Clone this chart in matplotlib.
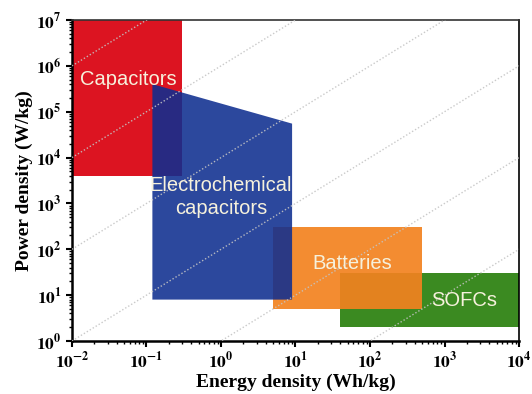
import numpy as np
import matplotlib.pyplot as plt
from matplotlib.patches import Polygon
from matplotlib.ticker import FuncFormatter, LogLocator

plt.rcParams['mathtext.fontset'] = 'stix'

# Ragone regions: energy density (Wh/kg) vs power density (W/kg)
cap_E = [0.01, 0.3]
cap_P = [4e3, 1e7]

ec_E = [0.12, 0.12, 9, 9]
ec_P = [8, 4e5, 5.5e4, 8]

bat_E = [5, 500]
bat_P = [5, 300]

sofc_E = [40, 1e4]
sofc_P = [2, 30]

# constant-time guide lines, P/E in 1/h
ratios = [1e-2, 1, 1e2, 1e4, 1e6, 1e8]

fig = plt.figure(figsize=(5.32, 3.94), dpi=100)
ax = fig.add_axes([0.1353, 0.1345, 0.8403, 0.8147])
ax.set_xscale('log')
ax.set_yscale('log')
ax.set_xlim(1e-2, 1e4)
ax.set_ylim(1, 1e7)


def box(E, P, color, alpha, z):
    pts = [(E[0], P[0]), (E[0], P[1]), (E[1], P[1]), (E[1], P[0])]
    ax.add_patch(Polygon(pts, closed=True, facecolor=color, edgecolor='none',
                         alpha=alpha, zorder=z))


box(sofc_E, sofc_P, '#3b8a21', 1.0, 1)
box(cap_E, cap_P, '#dc1421', 1.0, 1)
box(bat_E, bat_P, '#f2821f', 0.92, 2)
ax.add_patch(Polygon(list(zip(ec_E, ec_P)), closed=True, facecolor='#0f2e90',
                     edgecolor='none', alpha=0.88, zorder=3))

E = np.logspace(-2, 4, 50)
for r in ratios:
    ax.plot(E, E * r, linestyle=(0, (1, 1.5)), color='#c4c4c4', lw=1.0,
            alpha=0.9, zorder=4)

txt = dict(color='#f6f1dc', fontsize=14.5, family='Liberation Sans',
           ha='center', va='center', zorder=5)
ax.text(0.057, 5e5, 'Capacitors', **txt)
ax.text(1.0, 1.4e3, 'Electrochemical\ncapacitors', linespacing=1.25, **txt)
ax.text(57, 48, 'Batteries', **txt)
ax.text(1850, 7.8, 'SOFCs', **txt)

ax.xaxis.set_major_locator(LogLocator(base=10, numticks=10))
ax.yaxis.set_major_locator(LogLocator(base=10, numticks=10))
ax.xaxis.set_minor_locator(LogLocator(base=10, subs=np.arange(2, 10), numticks=10))
ax.yaxis.set_minor_locator(LogLocator(base=10, subs=np.arange(2, 10), numticks=10))
fmt = FuncFormatter(lambda v, p: r'$\mathbf{10^{%d}}$' % round(np.log10(v)))
ax.xaxis.set_major_formatter(fmt)
ax.yaxis.set_major_formatter(fmt)
ax.tick_params(which='major', direction='out', length=4, width=1.5,
               labelsize=12.5, top=False, right=False)
ax.tick_params(which='minor', direction='out', length=2.5, width=1,
               top=False, right=False)

for s in ['left', 'bottom']:
    ax.spines[s].set_linewidth(1.8)
ax.spines['top'].set_linewidth(1.2)
ax.spines['top'].set_color('#333333')
ax.spines['right'].set_linewidth(1.2)

lab = dict(family='Liberation Serif', fontweight='bold', fontsize=14)
ax.set_xlabel('Energy density (Wh/kg)', labelpad=1, **lab)
ax.set_ylabel('Power density (W/kg)', labelpad=2, **lab)

fig.savefig('out.png', dpi=100)
